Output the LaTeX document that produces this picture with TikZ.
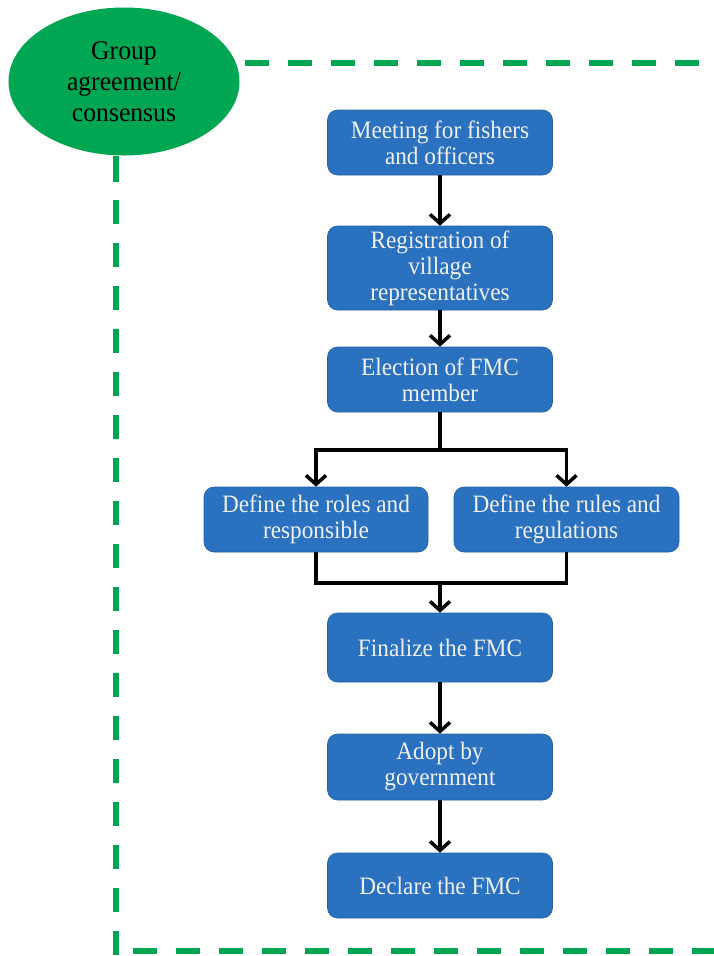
\documentclass[tikz,border=0pt]{standalone}
\usepackage{fontspec}
\setmainfont{Liberation Serif}
\newfontfamily\boxfont[FakeStretch=0.93]{Liberation Serif}
\newfontfamily\ellfont[FakeStretch=0.95]{Liberation Serif}
\usetikzlibrary{arrows.meta,shapes.geometric}
\definecolor{boxblue}{RGB}{42,113,192}
\definecolor{boxedge}{RGB}{36,96,165}
\definecolor{grn}{RGB}{0,166,81}
\begin{document}
\begin{tikzpicture}[x=1pt,y=-1pt,
  stepbox/.style={draw=boxedge, line width=0.6pt, fill=boxblue, rounded corners=10pt,
    text=white!94!black, font=\boxfont\fontsize{25}{26}\selectfont, align=center, inner sep=0pt,
    minimum width=225pt},
  flow/.style={line width=3.5pt, -{Straight Barb[length=9pt,width=20pt,line width=3.5pt]}},
  conn/.style={line width=3.5pt},
  gdash/.style={grn, line width=6pt, dash pattern=on 24pt off 19pt},
  gline/.style={grn, line width=6pt}
]
\useasboundingbox (0,0) rectangle (713,956);
\fill[white] (0,0) rectangle (713,956);

% green frame
\node[ellipse, fill=grn, minimum width=231pt, minimum height=148pt, inner sep=0pt,
  align=center, font=\ellfont\fontsize{27}{31}\selectfont] (g) at (124,81.5)
  {Group\\agreement/\\consensus};
\coordinate (lt) at (116,182);
\draw[gline] (g.south -| lt) -- (lt);
\coordinate (vtop) at (116,200);
\coordinate (vbot) at (116,960);
\draw[gdash] (vtop) -- (vbot);
\coordinate (bl) at (133,951);
\coordinate (br) at (720,951);
\draw[gdash] (bl) -- (br);
\coordinate (tl) at (245,63);
\coordinate (tr) at (720,63);
\draw[gdash] (tl) -- (tr);

% boxes
\node[stepbox, minimum height=65pt] (b1) at (440,142.5) {Meeting for fishers\\and officers};
\node[stepbox, minimum height=84pt] (b2) at (440,268) {Registration of\\village\\representatives};
\node[stepbox, minimum height=65pt] (b3) at (440,379.5) {Election of FMC\\member};
\node[stepbox, minimum height=65pt, minimum width=224pt] (b4) at (316,519.5) {Define the roles and\\responsible};
\node[stepbox, minimum height=65pt] (b5) at (566.5,519.5) {Define the rules and\\regulations};
\node[stepbox, minimum height=69pt] (b6) at (440,647.5) {Finalize the FMC};
\node[stepbox, minimum height=66pt] (b7) at (440,767) {Adopt by\\government};
\node[stepbox, minimum height=65pt] (b8) at (440,885.5) {Declare the FMC};

% connectors
\draw[flow] (b1) -- (b2);
\draw[flow] (b2) -- (b3);
\coordinate (j1) at (440,450);
\draw[conn] (b3) -- (j1);
\draw[flow] (j1) -| (b4);
\draw[flow] (j1) -| (b5);
\coordinate (j2) at (440,583);
\draw[conn] (b4.south) |- (j2) -| (b5.south);
\draw[flow] (j2) -- (b6);
\draw[flow] (b6) -- (b7);
\draw[flow] (b7) -- (b8);
\end{tikzpicture}
\end{document}
